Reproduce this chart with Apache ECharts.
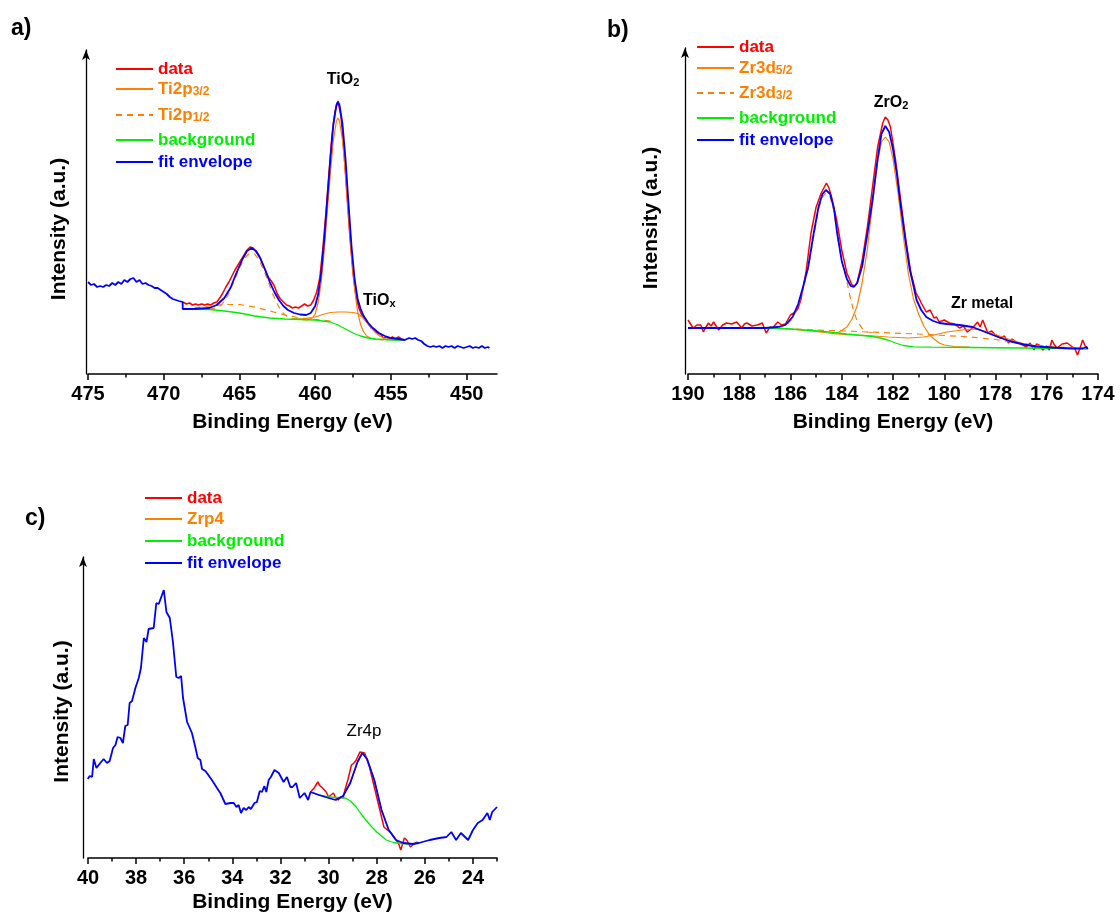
<!DOCTYPE html>
<html>
<head>
<meta charset="utf-8">
<script src="https://cdn.jsdelivr.net/npm/echarts@6/dist/echarts.min.js"></script>
<style>
  html, body { margin: 0; padding: 0; background: #fff; }
  #chart { width: 1120px; height: 922px; }
</style>
</head>
<body>
<div id="chart"></div>
<script>
// ---- panel a) Ti 2p ----
var tiData = [[468.75,72],[468.5,70],[468.3,71],[468.1,69],[467.9,70],[467.7,69],[467.5,70],[467.3,69],[467.1,70],[466.9,69],[466.7,71],[466.5,72],[466.3,76],[466.1,81],[465.9,87],[465.7,92],[465.5,98],[465.3,104],[465.1,109],[464.9,114],[464.7,119],[464.5,124],[464.3,127],[464.2,129],[464.1,126],[463.9,122],[463.7,118],[463.5,111],[463.3,104],[463.1,97],[462.9,93],[462.7,88],[462.5,80],[462.3,75],[462.1,72],[461.9,69],[461.7,68],[461.5,66],[461.3,67],[461.1,66],[460.9,68],[460.7,70],[460.5,68],[460.3,69],[460.1,74],[459.9,82],[459.7,96],[459.5,125],[459.3,160],[459.1,200],[458.9,238],[458.7,262],[458.5,273],[458.3,258],[458.1,222],[457.9,178],[457.7,135],[457.5,100],[457.3,77],[457.1,65],[456.9,58],[456.7,54],[456.5,50],[456.3,46],[456.1,45],[455.9,41],[455.7,40],[455.5,36],[455.3,37],[455.1,35],[454.9,37],[454.7,35],[454.5,37],[454.3,35],[454.1,34]];
var tiEnvelope = [[475.0,92],[474.8,89],[474.6,90],[474.4,87],[474.2,88],[474.0,87],[473.8,89],[473.6,88],[473.4,91],[473.2,89],[473.0,92],[472.8,90],[472.6,94],[472.4,92],[472.2,95],[472.0,96],[471.8,92],[471.6,94],[471.4,90],[471.2,91],[471.0,89],[470.8,88],[470.6,86],[470.4,86],[470.2,84],[470.0,82],[469.8,80],[469.6,77],[469.4,75],[469.2,74],[469.0,73],[468.75,72],
  [468.75,65],[468.0,65],[467.5,65.5],[467.0,66],[466.5,69],[466.0,76],[465.6,86],[465.2,101],[464.8,115],[464.5,123],[464.2,126],[463.9,123],[463.6,115],[463.3,104],[463.0,92],[462.7,82],[462.4,74],[462.1,68],[461.8,64],[461.4,61],[461.0,59.5],[460.6,59],[460.3,61],[460.0,68],[459.8,80],[459.6,102],[459.4,135],[459.2,175],[459.0,215],[458.8,250],[458.6,269],[458.5,272],[458.4,269],[458.2,250],[458.0,215],[457.8,170],[457.6,127],[457.4,95],[457.2,75],[457.0,65],[456.8,58],[456.5,51],[456.2,46],[455.8,41],[455.4,38],[455.0,36],[454.5,35],[454.1,34],
  [454.0,35],[453.8,36],[453.6,35],[453.4,36],[453.2,34],[453.0,33],[452.8,30],[452.6,28],[452.4,27],[452.2,28],[452.0,27],[451.8,28],[451.6,26],[451.4,28],[451.2,27],[451.0,28],[450.8,26],[450.6,28],[450.4,27],[450.2,26],[450.0,27],[449.8,28],[449.6,26],[449.4,27],[449.2,26],[449.0,28],[448.8,26],[448.6,27],[448.5,26]];
var tiO2p32 = [[461.0,54.5],[460.5,54.5],[460.2,56],[460.0,60],[459.8,72],[459.6,92],[459.4,124],[459.2,163],[459.0,200],[458.8,234],[458.6,253],[458.5,256],[458.4,253],[458.2,234],[458.0,200],[457.8,158],[457.6,118],[457.4,85],[457.2,62],[457.0,49],[456.8,42],[456.6,38],[456.3,35.5],[456.0,34.5],[455.5,34]];
var tiOxp32 = [[461.4,55],[460.8,55.5],[460.2,56.5],[459.8,58],[459.4,60],[459.0,61.5],[458.5,62],[458.0,62],[457.5,61.5],[457.2,60.5],[456.9,57],[456.6,52],[456.3,46],[456.0,41],[455.7,37.5],[455.3,35],[454.8,34],[454.2,34]];
var tiO2p12 = [[467.0,65],[466.5,66],[466.2,69],[465.9,75],[465.6,84],[465.3,95],[465.0,106],[464.7,115],[464.4,120],[464.2,121],[464.0,120],[463.7,114],[463.4,104],[463.1,92],[462.8,80],[462.5,70],[462.2,62],[461.9,58],[461.5,55.5],[461.0,54.5],[460.5,54]];
var tiOxp12 = [[468.7,65],[468.0,66],[467.0,68],[466.0,69.5],[465.0,69.5],[464.0,67],[463.0,63],[462.0,59],[461.0,56],[460.0,54.5],[459.0,53],[458.7,51]];
var tiBackground = [[468.75,65],[467.0,64.5],[466.0,63],[465.0,61],[464.0,58],[463.0,56],[462.0,55],[461.0,54.5],[460.0,54],[459.5,53],[459.0,52],[458.5,49],[458.0,45],[457.5,41],[457.0,38],[456.5,36],[456.0,35],[455.0,34],[454.1,34]];
var tiMajorTicks = [475, 470, 465, 460, 455, 450];
var tiMinorTicks = [472.5, 467.5, 462.5, 457.5, 452.5];

// ---- panel b) Zr 3d ----
var zrData = [[190.0,54],[189.9,50],[189.8,46],[189.65,49],[189.5,49],[189.4,42],[189.3,47],[189.2,51],[189.1,48],[189.0,52],[188.8,44],[188.65,49],[188.5,51],[188.3,50],[188.1,52],[187.9,46],[187.8,50],[187.7,51],[187.5,48],[187.3,49],[187.1,51],[186.95,41],[186.8,47],[186.7,46],[186.5,52],[186.35,49],[186.2,50],[186.0,59],[185.8,62],[185.7,66],[185.6,74],[185.4,101],[185.2,141],[185.0,167],[184.8,181],[184.7,186],[184.6,191],[184.5,186],[184.4,177],[184.2,154],[184.0,124],[183.8,101],[183.6,89],[183.5,88],[183.4,91],[183.2,114],[183.0,147],[182.8,187],[182.6,227],[182.4,251],[182.3,257],[182.2,254],[182.1,247],[181.9,214],[181.7,174],[181.5,134],[181.3,101],[181.1,81],[180.95,74],[180.9,71],[180.7,62],[180.55,64],[180.4,56],[180.3,57],[180.2,52],[180.0,54],[179.8,51],[179.6,50],[179.4,46],[179.25,48],[179.1,42],[178.9,46],[178.7,52],[178.6,47],[178.5,54],[178.3,41],[178.15,43],[178.0,39],[177.8,36],[177.65,38],[177.5,31],[177.35,35],[177.2,32],[177.0,30],[176.8,27],[176.65,31],[176.5,24],[176.4,30],[176.3,29],[176.15,24],[176.0,28],[175.9,24],[175.8,34],[175.7,29],[175.6,26],[175.4,30],[175.2,31],[175.0,27],[174.9,25],[174.8,19],[174.7,26],[174.6,34],[174.5,28],[174.4,26]];
var zrEnvelope = [[190.0,46],[189.0,46],[188.0,46],[187.0,46],[186.5,47],[186.2,49],[185.92,57],[185.7,70],[185.5,88],[185.31,107],[185.1,140],[184.9,168],[184.75,180],[184.62,184],[184.45,180],[184.3,165],[184.18,141],[184.0,113],[183.8,95],[183.65,88],[183.53,87],[183.4,91],[183.2,108],[183.0,140],[182.8,174],[182.6,215],[182.45,240],[182.3,248],[182.15,242],[182.0,225],[181.85,200],[181.73,174],[181.55,140],[181.35,105],[181.2,88],[181.08,74],[180.9,64],[180.7,57],[180.43,53],[180.2,51],[179.9,50],[179.4,49],[178.9,47],[178.4,42],[177.9,37],[177.4,32.5],[176.9,29.5],[176.4,27.5],[175.8,26.5],[175.0,25.5],[174.6,25.5],[174.45,27],[174.4,25]];
var zrO2d52 = [[184.4,40],[184.1,42],[183.8,47],[183.6,55],[183.4,68],[183.2,92],[183.0,125],[182.8,170],[182.6,212],[182.45,232],[182.3,237],[182.15,232],[182.0,215],[181.8,180],[181.6,138],[181.4,100],[181.2,75],[181.0,60],[180.8,48],[180.6,40],[180.4,35],[180.2,31],[180.0,29],[179.6,27.5],[179.0,27]];
var zrMetal52 = [[186.0,45],[185.0,42.5],[184.2,40],[183.5,39],[183.0,38.5],[182.2,37],[181.4,36],[180.8,37],[180.4,39],[179.9,42],[179.3,44],[178.9,45],[178.5,43.5],[178.0,39.5],[177.5,35],[177.0,31],[176.6,29],[176.0,27],[175.3,26],[174.5,25.5]];
var zrO2d32 = [[186.5,46],[186.2,48],[185.92,55],[185.7,68],[185.5,86],[185.31,105],[185.1,137],[184.9,165],[184.75,177],[184.62,181],[184.45,177],[184.3,162],[184.18,140],[184.0,113],[183.81,94],[183.68,78],[183.55,64],[183.4,53],[183.16,44],[183.0,42],[182.8,41.5]];
var zrMetal32 = [[187.5,46],[186.5,45.5],[185.5,44.5],[184.5,43.5],[183.8,43],[183.0,42],[182.0,41],[181.0,40],[180.0,38.5],[179.0,37],[178.0,34.5],[177.5,32.5],[176.5,29],[175.5,27],[174.6,26]];
var zrBackground = [[190.0,46],[187.5,46],[186.9,46],[186.0,45],[185.2,43.5],[184.5,42],[183.8,40],[183.2,38.5],[182.8,37.5],[182.5,36],[182.2,34],[181.9,31],[181.6,28.5],[181.2,27.2],[180.5,26.8],[179.0,26.5],[177.0,26],[175.0,25.5],[174.4,25]];
var zrMajorTicks = [190, 188, 186, 184, 182, 180, 178, 176, 174];
var zrMinorTicks = [189, 187, 185, 183, 181, 179, 177, 175];

// ---- panel c) Zr 4p ----
var zr4pData = [[30.75,66],[30.6,70],[30.45,76],[30.35,72],[30.25,70],[30.1,66],[30.0,61],[29.9,63],[29.8,65],[29.7,60],[29.6,58],[29.5,61],[29.4,60],[29.3,70],[29.2,78],[29.05,93],[28.95,95],[28.85,98],[28.7,106],[28.5,105],[28.3,91],[28.1,71],[27.9,51],[27.7,31],[27.55,28],[27.4,25],[27.25,20],[27.1,15],[27.0,8],[26.85,20],[26.75,18],[26.6,11],[26.45,14],[26.3,16]];
var zr4pEnvelope = [[40.01,79],[39.93,82],[39.83,81],[39.76,99],[39.65,90],[39.49,95],[39.35,99],[39.21,95],[39.1,97],[38.96,110],[38.86,113],[38.77,121],[38.65,120],[38.55,115],[38.45,132],[38.35,133],[38.27,155],[38.17,157],[38.03,170],[37.89,180],[37.8,190],[37.68,220],[37.57,216],[37.48,229],[37.27,230],[37.16,255],[37.06,254],[36.85,268],[36.74,246],[36.6,240],[36.47,216],[36.33,181],[36.23,180],[36.13,182],[36.05,160],[35.88,136],[35.68,125],[35.54,111],[35.44,100],[35.33,98],[35.26,89],[35.12,87],[34.85,78],[34.64,70],[34.5,65],[34.29,54],[34.08,55],[33.94,55],[33.83,51],[33.74,53],[33.64,45],[33.53,50],[33.42,48],[33.32,51],[33.23,49],[33.08,55],[32.98,56],[32.86,67],[32.77,66],[32.67,72],[32.59,66],[32.49,78],[32.4,81],[32.25,88],[32.07,85],[31.87,76],[31.73,81],[31.59,71],[31.5,71],[31.35,75],[31.2,60],[31.0,65],[30.85,58],[30.75,66],
  [30.4,63],[30.0,60],[29.7,58],[29.4,62],[29.1,75],[28.8,96],[28.6,105],[28.4,99],[28.1,78],[27.8,48],[27.5,28],[27.2,18],[26.9,15],[26.5,14],[26.25,15],
  [25.8,18],[25.4,20],[25.1,21],[24.9,26],[24.7,18],[24.5,25],[24.2,18],[24.0,28],[23.8,35],[23.6,38],[23.4,45],[23.3,38],[23.2,46],[23.0,51]];
var zr4pPeak = [[29.4,62],[29.1,75],[28.8,96],[28.6,105],[28.4,99],[28.1,78],[27.8,48],[27.5,28],[27.2,18]];
var zr4pBackground = [[30.75,66],[30.4,63],[30.0,61],[29.6,60.5],[29.3,60],[29.1,57],[28.85,51],[28.65,44],[28.45,38],[28.2,31],[28.0,26],[27.8,22],[27.6,18],[27.3,15.5],[27.0,14.5],[26.6,14],[26.25,15]];
var zr4pMajorTicks = [40, 38, 36, 34, 32, 30, 28, 26, 24];
var zr4pMinorTicks = [39, 37, 35, 33, 31, 29, 27, 25, 23];

var FONT = '"Liberation Sans", Arial, sans-serif';
var RED = '#ff0000', ORANGE = '#ff8000', GREEN = '#00ee00', BLUE = '#0000ff';

var myChart = echarts.init(document.getElementById('chart'));

function line(name, data, axis, color, width, dashed) {
    return {
        name: name, type: 'line', data: data,
        xAxisIndex: axis * 2, yAxisIndex: axis,
        symbol: 'none', showSymbol: false, silent: true,
        lineStyle: { color: color, width: width, type: dashed ? [6, 5] : 'solid' },
        itemStyle: { color: color }
    };
}

function xAxes(grid, min, max, major, minor, gap) {
    var axisLine = { show: true, lineStyle: { color: '#000', width: 1.5 } };
    return [{
        gridIndex: grid, type: 'value', position: 'bottom', min: min, max: max, inverse: true,
        axisLine: axisLine,
        axisTick: { show: true, customValues: major, length: 6, lineStyle: { color: '#000', width: 1.5 } },
        axisLabel: { customValues: major, color: '#000', fontSize: 20, fontWeight: 'bold', fontFamily: FONT, margin: 10, lineHeight: 20 },
        splitLine: { show: false },
        name: 'Binding Energy (eV)', nameLocation: 'middle', nameGap: gap,
        nameTextStyle: { color: '#000', fontSize: 21, fontWeight: 'bold', fontFamily: FONT, lineHeight: 22 }
    }, {
        gridIndex: grid, type: 'value', position: 'bottom', min: min, max: max, inverse: true,
        axisLine: { show: false },
        axisTick: { show: true, customValues: minor, length: 3.5, lineStyle: { color: '#000', width: 1.5 } },
        axisLabel: { show: false },
        splitLine: { show: false }
    }];
}

function yAxis(grid, max, offset, gap, shift) {
    return {
        gridIndex: grid, type: 'value', position: 'left', offset: offset, min: 0, max: max,
        axisLine: { show: true, symbol: ['none', 'arrow'], symbolSize: [6, 10], lineStyle: { color: '#000', width: 1.3 } },
        axisTick: { show: false }, axisLabel: { show: false }, splitLine: { show: false },
        name: 'Intensity (a.u.)', nameLocation: 'middle', nameGap: gap,
        nameTextStyle: { color: '#000', fontSize: 21, fontWeight: 'bold', fontFamily: FONT, lineHeight: 22, padding: [0, shift, 0, 0] }
    };
}

function legendRow(name, label, left, centerY, color) {
    return {
        data: [name], left: left, top: centerY - 9, padding: 0, orient: 'vertical',
        itemWidth: 37, itemHeight: 14, selectedMode: false,
        itemStyle: { opacity: 0 },   // hide the circle, keep the line
        formatter: function () { return label; },
        textStyle: {
            color: color, fontSize: 17, fontWeight: 'bold', fontFamily: FONT, lineHeight: 18,
            rich: {
                m: { color: color, fontSize: 17, fontWeight: 'bold', fontFamily: FONT, lineHeight: 18 },
                s: { color: color, fontSize: 12, fontWeight: 'bold', fontFamily: FONT, lineHeight: 4, verticalAlign: 'bottom' }
            }
        }
    };
}

function note(text, x, y, bold, size, align) {
    return {
        type: 'text', x: x, y: y, silent: true,
        style: {
            text: text, align: align || 'center', verticalAlign: 'middle', fill: '#000',
            fontSize: size, fontWeight: bold ? 'bold' : 'normal', fontFamily: FONT,
            rich: {
                m: { fontSize: size, fontWeight: bold ? 'bold' : 'normal', fontFamily: FONT, lineHeight: 16, fill: '#000' },
                s: { fontSize: 11, fontWeight: 'bold', fontFamily: FONT, lineHeight: 6, verticalAlign: 'bottom', fill: '#000' }
            }
        }
    };
}

myChart.setOption({
    animation: false,
    backgroundColor: '#fff',
    grid: [
        { left: 88, top: 50, width: 409, height: 324 },
        { left: 688, top: 48, width: 410, height: 326 },
        { left: 88, top: 557, width: 409, height: 301 }
    ],
    xAxis: [].concat(
        xAxes(0, 448, 475, tiMajorTicks, tiMinorTicks, 37),
        xAxes(1, 174, 190, zrMajorTicks, zrMinorTicks, 37),
        xAxes(2, 23, 40, zr4pMajorTicks, zr4pMinorTicks, 33)
    ),
    yAxis: [
        yAxis(0, 324, 2, 16, 34),
        yAxis(1, 326, 3, 23, 14),
        yAxis(2, 301, 5, 10, 8)
    ],
    legend: [
        legendRow('data', '{m|data}', 115, 69, RED),
        legendRow('Ti2p3/2', '{m|Ti2p}{s|3/2}', 115, 89, ORANGE),
        legendRow('Ti2p1/2', '{m|Ti2p}{s|1/2}', 115, 115, ORANGE),
        legendRow('background', '{m|background}', 115, 140, GREEN),
        legendRow('fit envelope', '{m|fit envelope}', 115, 162, BLUE),
        legendRow('data', '{m|data}', 696, 47, RED),
        legendRow('Zr3d5/2', '{m|Zr3d}{s|5/2}', 696, 68, ORANGE),
        legendRow('Zr3d3/2', '{m|Zr3d}{s|3/2}', 696, 93, ORANGE),
        legendRow('background', '{m|background}', 696, 118, GREEN),
        legendRow('fit envelope', '{m|fit envelope}', 696, 140, BLUE),
        legendRow('data', '{m|data}', 144, 498, RED),
        legendRow('Zrp4', '{m|Zrp4}', 144, 519, ORANGE),
        legendRow('background', '{m|background}', 144, 541, GREEN),
        legendRow('fit envelope', '{m|fit envelope}', 144, 563, BLUE)
    ],
    graphic: [
        note('a)', 11, 29, true, 23, 'left'),
        note('b)', 607, 31, true, 23, 'left'),
        note('c)', 25, 519, true, 23, 'left'),
        note('{m|TiO}{s|2}', 343, 80, true, 16),
        note('{m|TiO}{s|x}', 363, 301, true, 16, 'left'),
        note('{m|ZrO}{s|2}', 891, 103, true, 16),
        note('Zr metal', 982, 304, true, 16),
        note('Zr4p', 364, 731, false, 17)
    ],
    series: [
        line('data', tiData, 0, RED, 1.5),
        line('Ti2p3/2', tiO2p32, 0, ORANGE, 1.2),
        line('Ti2p3/2', tiOxp32, 0, ORANGE, 1.2),
        line('Ti2p1/2', tiO2p12, 0, ORANGE, 1.2, true),
        line('Ti2p1/2', tiOxp12, 0, ORANGE, 1.2, true),
        line('background', tiBackground, 0, GREEN, 1.3),
        line('fit envelope', tiEnvelope, 0, BLUE, 1.8),

        line('data', zrData, 1, RED, 1.5),
        line('Zr3d5/2', zrO2d52, 1, ORANGE, 1.2),
        line('Zr3d5/2', zrMetal52, 1, ORANGE, 1.2),
        line('Zr3d3/2', zrO2d32, 1, ORANGE, 1.2, true),
        line('Zr3d3/2', zrMetal32, 1, ORANGE, 1.2, true),
        line('background', zrBackground, 1, GREEN, 1.3),
        line('fit envelope', zrEnvelope, 1, BLUE, 1.8),

        line('data', zr4pData, 2, RED, 1.5),
        line('Zrp4', zr4pPeak, 2, ORANGE, 1.2),
        line('background', zr4pBackground, 2, GREEN, 1.3),
        line('fit envelope', zr4pEnvelope, 2, BLUE, 1.8)
    ]
});
</script>
</body>
</html>
